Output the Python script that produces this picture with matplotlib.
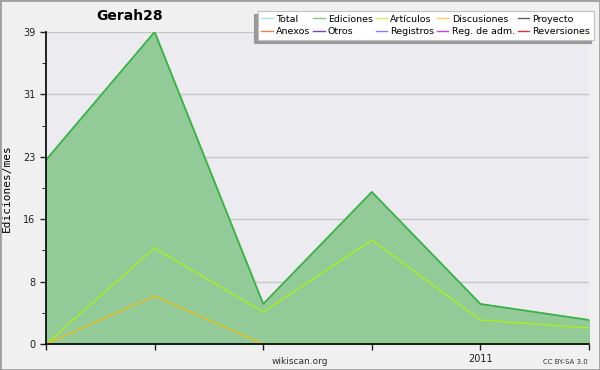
import matplotlib
matplotlib.use('Agg')
import matplotlib.pyplot as plt
from matplotlib.lines import Line2D
from matplotlib.patches import Rectangle

# monthly data (Sep 2010 .. Feb 2011)
months = ['2010-09', '2010-10', '2010-11', '2010-12', '2011-01', '2011-02']
total = [23, 39, 5, 19, 5, 3]
ediciones = [23, 39, 5, 19, 5, 3]
articulos = [0, 12, 4, 13, 3, 2]
discusiones = [0, 6, 0, 0, 0, 0]
ytick_vals = [0, 7.8, 15.6, 23.4, 31.2, 39]
ytick_labels = ['0', '8', '16', '23', '31', '39']

legend_names = ['Total', 'Ediciones', 'Artículos', 'Discusiones', 'Proyecto',
                'Anexos', 'Otros', 'Registros', 'Reg. de adm.', 'Reversiones']
legend_colors = ['#a8e4e0', '#80c888', '#d4f060', '#f8d060', '#606060',
                 '#f08040', '#8040c8', '#8080f0', '#d040e0', '#e03030']

fig = plt.figure(figsize=(6, 3.7), dpi=100)
fig.patch.set_facecolor('#f0f0f0')
fig.patches.append(Rectangle((0, 0), 1, 1, transform=fig.transFigure, fill=False,
                             edgecolor='#a0a0a0', linewidth=2))
ax = fig.add_axes([46/600, 1-344/370, 543/600, 312/370])
ax.set_facecolor('#ececf0')

x = list(range(len(months)))
ax.fill_between(x, 0, ediciones, color='#93cb98', zorder=2)
ax.plot(x, total, color='#a8e4e0', lw=1, zorder=3)
ax.plot(x, ediciones, color='#3cb043', lw=1.3, zorder=4)
ax.plot(x, articulos, color='#aaee22', lw=1, zorder=5)
ax.plot(x, discusiones, color='#e8c020', lw=1, zorder=5)

ax.set_xlim(0, len(months)-1)
ax.set_ylim(0, 39)
ax.set_yticks(ytick_vals)
ax.set_yticklabels(ytick_labels)
ax.set_yticks([v + 3.9 for v in ytick_vals[:-1]], minor=True)
ax.set_xticks(x)
ax.set_xticklabels(['2011' if m == '2011-01' else '' for m in months])
ax.tick_params(axis='both', labelsize=7, colors='#202020', length=4, width=1)
ax.tick_params(axis='y', which='minor', length=3)
ax.grid(axis='y', color='#c8c8c8', lw=1, zorder=1)
ax.set_axisbelow(True)
for s in ['top', 'right']:
    ax.spines[s].set_visible(False)
for s in ['left', 'bottom']:
    ax.spines[s].set_linewidth(1.2)
    ax.spines[s].set_zorder(6)
ax.set_ylabel('Ediciones/mes', fontsize=8, family='DejaVu Sans Mono', labelpad=8)

fig.text(130/600, 1-16/370, 'Gerah28', fontsize=10, fontweight='bold', ha='center', va='center')
fig.text(300/600, 1-361/370, 'wikiscan.org', fontsize=6.5, ha='center', va='center', color='#303030')
fig.text(588/600, 1-362/370, 'CC BY-SA 3.0', fontsize=5, ha='right', va='center', color='#303030')

order = [0, 5, 1, 6, 2, 7, 3, 8, 4, 9]
handles = [Line2D([], [], color=legend_colors[i], lw=1) for i in order]
labels = [legend_names[i] for i in order]
leg = fig.legend(handles, labels, ncol=5, loc='upper right', bbox_to_anchor=(594/600, 1-11/370),
                 fontsize=6.8, frameon=True, fancybox=False,
                 shadow={'ox': -2.5, 'oy': -2.5, 'color': '#999999', 'alpha': 1},
                 handlelength=1.2, handletextpad=0.35, columnspacing=0.3,
                 labelspacing=0.35, borderpad=0.4, borderaxespad=0)
leg.get_frame().set_edgecolor('#c0c0c0')
leg.get_frame().set_facecolor('white')
leg.get_frame().set_linewidth(0.8)

fig.savefig('out.png', dpi=100, facecolor=fig.get_facecolor())
